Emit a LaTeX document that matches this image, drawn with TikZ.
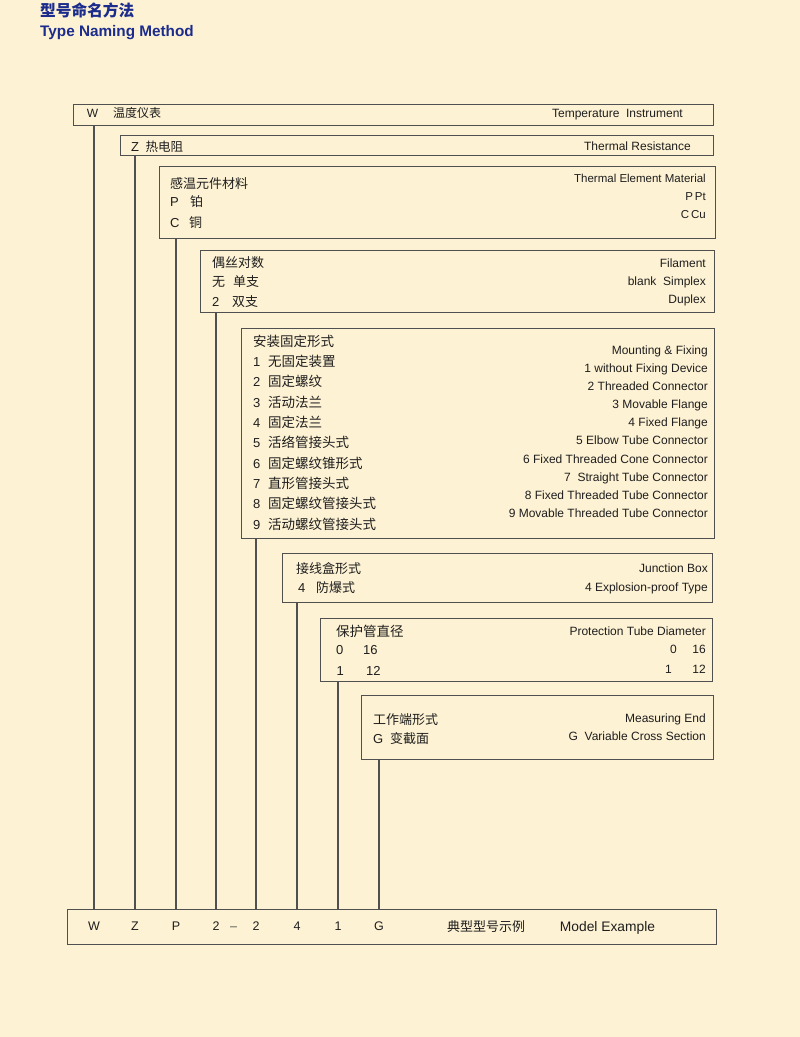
\documentclass[tikz,border=0pt]{standalone}
\usepackage{fontspec}
\setmainfont{Liberation Sans}
\newfontfamily\cjk{Noto Sans CJK SC}
\definecolor{paper}{HTML}{FEF2D4}
\definecolor{edge}{HTML}{505050}
\definecolor{navy}{HTML}{1B2C8C}
\definecolor{ink}{HTML}{1E1E1E}
\tikzset{
  codebox/.style={draw=edge,line width=1.3pt,fill=paper,anchor=north west,inner sep=0pt},
  lt/.style={anchor=base west,inner sep=0pt,text=ink,font=\fontsize{13}{15}\selectfont},
  cn/.style={lt,font=\fontsize{13}{15}\selectfont\cjk},
  rt/.style={anchor=base east,inner sep=0pt,text=ink,font=\fontsize{12}{14}\selectfont},
  mk/.style={anchor=base,inner sep=0pt,text=ink,font=\fontsize{12.5}{14}\selectfont},
  link/.style={draw=edge,line width=1.3pt},
}
\begin{document}
\begin{tikzpicture}[x=1pt,y=-1pt]
  \fill[paper] (0,0) rectangle (800,1037);
  \useasboundingbox (0,0) rectangle (800,1037);
  % title
  \node[anchor=base west,inner sep=0pt,text=navy,font=\fontsize{15.7}{17}\selectfont\bfseries\cjk] (titlecn) at (40,16.3) {型号命名方法};
  \node[anchor=base west,inner sep=0pt,text=navy,font=\fontsize{15.3}{17}\selectfont\bfseries] (titleen) at (40,36) {Type Naming Method};
  % code boxes
  \node[codebox,minimum width=640pt,minimum height=21pt] (bW) at (73,104) {};
  \node[codebox,minimum width=593pt,minimum height=20pt] (bZ) at (120,135) {};
  \node[codebox,minimum width=556pt,minimum height=72pt] (bP) at (159,166) {};
  \node[codebox,minimum width=514pt,minimum height=62pt] (bF) at (200,250) {};
  \node[codebox,minimum width=473pt,minimum height=210pt] (bM) at (241,328) {};
  \node[codebox,minimum width=430pt,minimum height=49pt] (bJ) at (282,553) {};
  \node[codebox,minimum width=392pt,minimum height=63pt] (bD) at (320,618) {};
  \node[codebox,minimum width=352pt,minimum height=64pt] (bG) at (361,695) {};
  \node[codebox,minimum width=649pt,minimum height=35pt] (model) at (67,909) {};
  % W
  \node[lt,font=\fontsize{12}{14}\selectfont] (wa) at (86.7,117.7) {W};
  \node[cn,font=\fontsize{12}{14}\selectfont\cjk] (wb) at (113,117.7) {温度仪表};
  \node[rt] (we) at (683,117.7) {Temperature\ \ Instrument};
  % Z
  \node[lt] (za) at (131,151) {Z};
  \node[cn,font=\fontsize{12.5}{14}\selectfont\cjk] (zb) at (145.5,151) {热电阻};
  \node[rt] (ze) at (691,150.5) {Thermal Resistance};
  % material
  \node[cn] (pt) at (170,188) {感温元件材料};
  \node[lt] (pa) at (170,206.6) {P};
  \node[cn] (pb) at (190,206.6) {铂};
  \node[lt] (ca) at (170,227.6) {C};
  \node[cn] (cb) at (189,227.6) {铜};
  \node[rt,font=\fontsize{11.5}{13}\selectfont] (pe1) at (706,182.5) {Thermal Element Material};
  \node[rt,font=\fontsize{11.5}{13}\selectfont] (pe2) at (706,200.5) {P\,Pt};
  \node[rt,font=\fontsize{11.5}{13}\selectfont] (pe3) at (706,218.5) {C\,Cu};
  % filament
  \node[cn] (ft) at (212,267) {偶丝对数};
  \node[cn] (fa1) at (212,286.6) {无};
  \node[cn] (fb1) at (233,286.6) {单支};
  \node[lt] (fa2) at (212,306.6) {2};
  \node[cn] (fb2) at (232,306.6) {双支};
  \node[rt] (fe1) at (706,267.5) {Filament};
  \node[rt] (fe2) at (706,285.5) {blank\ \ Simplex};
  \node[rt] (fe3) at (706,303.5) {Duplex};
  % mounting & fixing
  \node[cn,font=\fontsize{13.5}{15}\selectfont\cjk] (mt) at (253,346) {安装固定形式};
  \node[rt] (me0) at (708,354.5) {Mounting \& Fixing};
  \foreach \i/\txt in {1/无固定装置,2/固定螺纹,3/活动法兰,4/固定法兰,5/活络管接头式,
                      6/固定螺纹锥形式,7/直形管接头式,8/固定螺纹管接头式,9/活动螺纹管接头式} {
    \node[lt] (mn\i) at (253,{366.6+20.3*(\i-1)}) {\i};
    \node[cn,font=\fontsize{13.5}{15}\selectfont\cjk] (mc\i) at (268,{366.6+20.3*(\i-1)}) {\txt};
  }
  \foreach \i/\en in {1/without Fixing Device,2/Threaded Connector,3/Movable Flange,4/Fixed Flange,
                      5/Elbow Tube Connector,6/Fixed Threaded Cone Connector,7/\ Straight Tube Connector,
                      8/Fixed Threaded Tube Connector,9/Movable Threaded Tube Connector}
    \node[rt] (me\i) at (708,{372.5+18.1*(\i-1)}) {\i\ \en};
  % junction box
  \node[cn] (jt) at (296,573) {接线盒形式};
  \node[lt] (ja) at (298,592.6) {4};
  \node[cn] (jb) at (316,592.6) {防爆式};
  \node[rt] (je1) at (708,572.5) {Junction Box};
  \node[rt] (je2) at (708,591.5) {4 Explosion-proof Type};
  % protection tube
  \node[cn,font=\fontsize{13.5}{15}\selectfont\cjk] (dt) at (336,636) {保护管直径};
  \node[lt] (da1) at (336,654.3) {0};
  \node[lt] (db1) at (363,654.3) {16};
  \node[lt] (da2) at (336.5,675.3) {1};
  \node[lt] (db2) at (366,675.3) {12};
  \node[rt] (de0) at (706,635.3) {Protection Tube Diameter};
  \node[rt] (dea1) at (677,653.3) {0};
  \node[rt] (deb1) at (706,653.3) {16};
  \node[rt] (dea2) at (672,673.3) {1};
  \node[rt] (deb2) at (706,673.3) {12};
  % measuring end
  \node[cn] (gt) at (373,724) {工作端形式};
  \node[lt] (ga) at (373,743.6) {G};
  \node[cn] (gb) at (390,743.6) {变截面};
  \node[rt] (ge1) at (706,722.5) {Measuring End};
  \node[rt] (ge2) at (706,740.5) {G\ \ Variable Cross Section};
  % model example
  \foreach \n/\c/\x in {mW/W/94,mZ/Z/135,mP/P/176,mF/2/216,mM/2/256,mJ/4/297,mD/1/338,mG/G/379}
    \node[mk] (\n) at (\x,930.7) {\c};
  \node[mk,text=edge] (mdash) at (233.7,930.7) {–};
  \node[mk,font=\fontsize{13}{15}\selectfont\cjk] (excn) at (486,931.5) {典型型号示例};
  \node[mk,font=\fontsize{13.8}{15}\selectfont] (exen) at (607.5,931.5) {Model Example};
  % connectors
  \foreach \b/\m in {bW/mW,bZ/mZ,bP/mP,bF/mF,bM/mM,bJ/mJ,bD/mD,bG/mG}
    \draw[link] (\m |- \b.south) -- (\m |- model.north);
\end{tikzpicture}
\end{document}
